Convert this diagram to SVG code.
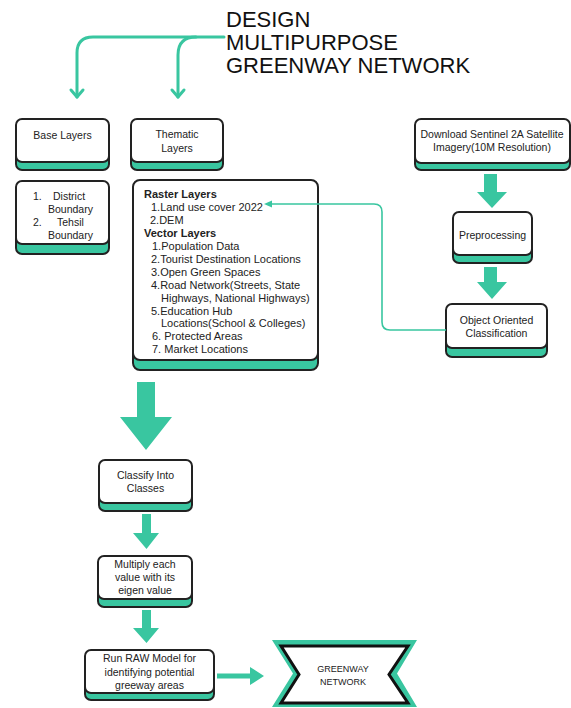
<svg xmlns="http://www.w3.org/2000/svg" width="571" height="708" viewBox="0 0 571 708">
<style>
  .t { font-family: "Liberation Sans", Arial, sans-serif; font-size: 10.5px; fill: #222; }
  .l { font-size: 11px; }
  .tc { text-anchor: middle; }
  .b { font-weight: bold; }
  .title { font-family: "Liberation Sans", Arial, sans-serif; font-size: 22px; fill: #111; }
  .sh { fill: #39C6A0; stroke: #222; stroke-width: 2; }
  .box { fill: #fff; stroke: #222; stroke-width: 2; }
  .fat { fill: #39C6A0; }
  .ln { fill: none; stroke: #39C6A0; stroke-width: 3; stroke-linecap: round; stroke-linejoin: round; }
  .thin { fill: none; stroke: #39C6A0; stroke-width: 1.6; }
</style>
<rect width="571" height="708" fill="#fff"/>

<g id="title">
  <text class="title" x="226" y="27">DESIGN</text>
  <text class="title" x="226" y="50">MULTIPURPOSE</text>
  <text class="title" x="226" y="73">GREENWAY NETWORK</text>
</g>

<g id="base-layers">
  <rect class="sh" x="16" y="129" width="93" height="41" rx="6"/>
  <rect class="box" x="16" y="119" width="93" height="43" rx="6"/>
  <text class="t tc" x="62.5" y="139">Base Layers</text>
</g>

<g id="thematic-layers">
  <rect class="sh" x="131" y="129" width="92" height="41" rx="6"/>
  <rect class="box" x="131" y="119" width="92" height="43" rx="6"/>
  <text class="t tc" x="177" y="138">Thematic</text>
  <text class="t tc" x="177" y="152">Layers</text>
</g>

<g id="boundaries">
  <rect class="sh" x="16" y="191" width="93" height="63" rx="6"/>
  <rect class="box" x="16" y="181" width="93" height="63" rx="6"/>
  <text class="t" x="33" y="200">1.</text>
  <text class="t" x="53" y="200">District</text>
  <text class="t" x="48" y="213">Boundary</text>
  <text class="t" x="33" y="226">2.</text>
  <text class="t" x="57" y="226">Tehsil</text>
  <text class="t" x="48" y="239">Boundary</text>
</g>

<g id="layers-list">
  <rect class="sh" x="133" y="190" width="185" height="180" rx="7"/>
  <rect class="box" x="133" y="180" width="185" height="180" rx="7"/>
  <text class="t l b" x="144" y="198">Raster Layers</text>
  <text class="t l" x="151" y="211">1.Land use cover 2022</text>
  <text class="t l" x="150" y="224">2.DEM</text>
  <text class="t l b" x="144" y="237">Vector Layers</text>
  <text class="t l" x="152" y="250">1.Population Data</text>
  <text class="t l" x="151" y="263">2.Tourist Destination Locations</text>
  <text class="t l" x="151" y="276">3.Open Green Spaces</text>
  <text class="t l" x="151" y="289">4.Road Network(Streets, State</text>
  <text class="t l" x="161" y="302">Highways, National Highways)</text>
  <text class="t l" x="151" y="315">5.Education Hub</text>
  <text class="t l" x="161" y="327">Locations(School &amp; Colleges)</text>
  <text class="t l" x="152" y="340">6. Protected Areas</text>
  <text class="t l" x="152" y="353">7. Market Locations</text>
</g>

<g id="download">
  <rect class="sh" x="415" y="129" width="155" height="41" rx="6"/>
  <rect class="box" x="415" y="119" width="155" height="44" rx="6"/>
  <text class="t tc" x="492" y="138">Download Sentinel 2A Satellite</text>
  <text class="t tc" x="492" y="151">Imagery(10M Resolution)</text>
</g>

<g id="preprocessing">
  <rect class="sh" x="453" y="222" width="79" height="41" rx="6"/>
  <rect class="box" x="453" y="212" width="79" height="43" rx="6"/>
  <text class="t tc" x="492.5" y="239">Preprocessing</text>
</g>

<g id="object-classification">
  <rect class="sh" x="446" y="314" width="101" height="43" rx="6"/>
  <rect class="box" x="446" y="304" width="101" height="44" rx="6"/>
  <text class="t tc" x="496.5" y="324">Object Oriented</text>
  <text class="t tc" x="496.5" y="337">Classification</text>
</g>

<g id="classify">
  <rect class="sh" x="99" y="470" width="93" height="41" rx="6"/>
  <rect class="box" x="99" y="460" width="93" height="43" rx="6"/>
  <text class="t tc" x="145.5" y="479">Classify Into</text>
  <text class="t tc" x="145.5" y="492">Classes</text>
</g>

<g id="multiply">
  <rect class="sh" x="98" y="566" width="94" height="41" rx="6"/>
  <rect class="box" x="98" y="556" width="94" height="43" rx="6"/>
  <text class="t tc" x="145" y="568">Multiply each</text>
  <text class="t tc" x="145" y="581">value with its</text>
  <text class="t tc" x="145" y="594">eigen value</text>
</g>

<g id="run-raw">
  <rect class="sh" x="85" y="660" width="129" height="40" rx="6"/>
  <rect class="box" x="85" y="650" width="129" height="43" rx="6"/>
  <text class="t tc" x="149.5" y="662">Run RAW Model for</text>
  <text class="t tc" x="149.5" y="676">identifying potential</text>
  <text class="t tc" x="149.5" y="689">greeway areas</text>
</g>

<g id="greenway-network">
  <polygon points="272,640 417,640 397,673.5 417,707 272,707 293,673.5" fill="#39C6A0"/>
  <polygon points="281,646 408,646 389,674.5 408,703 281,703 299,674.5" fill="#fff" stroke="#111" stroke-width="3" stroke-linejoin="miter"/>
  <text class="t tc" x="343" y="672" style="font-size:9px">GREENWAY</text>
  <text class="t tc" x="343" y="685" style="font-size:9px">NETWORK</text>
</g>

<g id="connectors">
  <path class="ln" d="M224,37 H93 Q77,37 77,53 V97"/>
  <path class="ln" d="M71,90 L77,97 L83,90"/>
  <path class="ln" d="M196,37 Q178,37 178,55 V97"/>
  <path class="ln" d="M172,90 L178,97 L184,90"/>
  <path class="thin" d="M446,330 H390 Q382,330 382,322 V212 Q382,204 374,204 H268"/>
  <path d="M264,204 L272,200.5 L272,207.5 Z" fill="#39C6A0"/>
  <polygon class="fat" points="484,174 497,174 497,192 507,192 492,208 477,192 484,192"/>
  <polygon class="fat" points="484,267 497,267 497,282 507,282 492,299 477,282 484,282"/>
  <polygon class="fat" points="137,382 155,382 155,417 172,417 146,450 120,417 137,417"/>
  <polygon class="fat" points="142,514 151,514 151,533 159,533 146.5,549 133,533 142,533"/>
  <polygon class="fat" points="142,610 151,610 151,628 159,628 146.5,643 133,628 142,628"/>
  <polygon class="fat" points="217,673.5 250,673.5 250,667 264,676 250,685 250,678.5 217,678.5"/>
</g>
</svg>
